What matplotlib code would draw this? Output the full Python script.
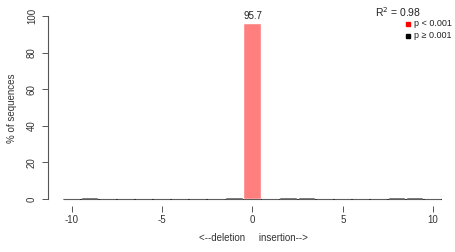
import matplotlib
matplotlib.use("Agg")
import matplotlib.pyplot as plt
import numpy as np

plt.rcParams['font.family'] = ['Liberation Sans', 'DejaVu Sans']

positions = list(range(-10, 11))
values = [0.1, 0.3, 0.1, 0.2, 0.1, 0.1, 0.05, 0.05, 0.05, 0.5, 95.7,
          0.1, 0.3, 0.3, 0.1, 0.05, 0.05, 0.05, 0.3, 0.3, 0.2]
significant = [False] * 10 + [True] + [False] * 10
r2_text = "0.98"
xticks = [-10, -5, 0, 5, 10]
yticks = [0, 20, 40, 60, 80, 100]

W, H = 456, 252
fig = plt.figure(figsize=(W / 100, H / 100), dpi=100)
ax_l, ax_r = 48, 442
ax_t, ax_b = 8.7, 206.3
ax = fig.add_axes([ax_l / W, 1 - ax_b / H, (ax_r - ax_l) / W, (ax_b - ax_t) / H])

ppu = (433 - 72) / 20.0
xmin = -10 - (72 - ax_l) / ppu
xmax = 10 + (ax_r - 433) / ppu
ax.set_xlim(xmin, xmax)
ax.set_ylim(-4, 104)

colors = ['#FF7F7F' if s else '#222222' for s in significant]
ax.bar(positions, values, width=0.9, color=colors, edgecolor='white', linewidth=0.3, zorder=2)
ax.hlines(0, -10.5, 10.5, color='#333333', linewidth=0.8, zorder=1)

for p, v, s in zip(positions, values, significant):
    if s:
        ax.text(p, v + 1.5, f"{v:.1f}", ha='center', va='bottom', fontsize=7, color='#222222')

for side in ['top', 'right', 'bottom']:
    ax.spines[side].set_visible(False)
ax.spines['left'].set_bounds(0, 100)
ax.spines['left'].set_color('#555555')
ax.spines['left'].set_linewidth(0.8)

ax.set_xticks(xticks)
ax.set_xticklabels([str(t) for t in xticks], fontsize=7, color='#333333')
ax.set_yticks(yticks)
ax.set_yticklabels([str(t) for t in yticks], fontsize=7, color='#333333', rotation=90, va='center')
ax.tick_params(axis='x', length=4, width=0.7, color='#555555', pad=2)
ax.tick_params(axis='y', length=4, width=0.7, color='#555555', pad=4)

fig.text(12 / W, 1 - 108 / H, '% of sequences', rotation=90, ha='center', va='center', fontsize=7, color='#333333')
fig.text(253 / W, 1 - 238 / H, '<--deletion     insertion-->', ha='center', va='center', fontsize=7, color='#333333')

fig.text(398 / W, 1 - 12 / H, r'R$^2$' + ' = ' + r2_text, ha='center', va='center', fontsize=7.5, color='#222222')
fig.text(414 / W, 1 - 24 / H, 'p < 0.001', ha='left', va='center', fontsize=6.5, color='#222222')
fig.text(414 / W, 1 - 36 / H, 'p \u2265 0.001', ha='left', va='center', fontsize=6.5, color='#222222')
fig.patches.append(plt.Rectangle((406 / W, 1 - 26 / H), 4 / W, 4 / H, transform=fig.transFigure, color='red'))
fig.patches.append(plt.Rectangle((406 / W, 1 - 38 / H), 4 / W, 4 / H, transform=fig.transFigure, color='black'))

fig.savefig('out.png', dpi=100)
